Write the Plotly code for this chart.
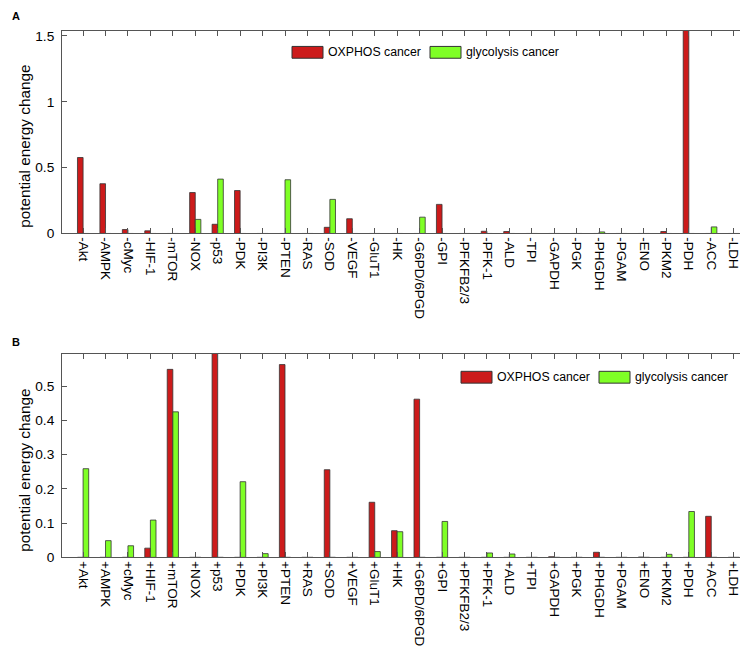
import plotly.graph_objects as go

genes = ["Akt", "AMPK", "cMyc", "HIF-1", "mTOR", "NOX", "p53", "PDK", "PI3K", "PTEN",
         "RAS", "SOD", "VEGF", "GluT1", "HK", "G6PD/6PGD", "GPI", "PFKFB2/3", "PFK-1", "ALD",
         "TPI", "GAPDH", "PGK", "PHGDH", "PGAM", "ENO", "PKM2", "PDH", "ACC", "LDH"]
labels_a = ["-" + g for g in genes]
labels_b = ["+" + g for g in genes]

oxphos_a = [0.577, 0.378, 0.030, 0.020, 0, 0.311, 0.070, 0.326, 0, 0,
            0, 0.047, 0.112, 0, 0, 0, 0.221, 0, 0.017, 0.015,
            0, 0, 0, 0, 0, 0, 0.015, 1.60, 0, 0]
glyco_a = [0, 0, 0, 0, 0, 0.107, 0.413, 0, 0, 0.408,
           0, 0.259, 0, 0, 0, 0.124, 0, 0, 0, 0,
           0, 0, 0, 0.012, 0, 0, 0, 0, 0.050, 0]

oxphos_b = [0, 0, 0, 0.027, 0.549, 0, 0.62, 0, 0, 0.563,
            0, 0.256, 0, 0.161, 0.078, 0.462, 0, 0, 0, 0,
            0, 0.002, 0, 0.015, 0, 0.001, 0, 0, 0.120, 0]
glyco_b = [0.259, 0.049, 0.034, 0.109, 0.425, 0, 0, 0.221, 0.011, 0,
           0, 0, 0, 0.017, 0.075, 0, 0.105, 0, 0.013, 0.010,
           0, 0, 0, 0, 0, 0, 0.009, 0.134, 0, 0]

series_names = ["OXPHOS cancer", "glycolysis cancer"]
yticks_a = [0, 0.5, 1, 1.5]
yticks_b = [0, 0.1, 0.2, 0.3, 0.4, 0.5]

RED = "#CC1B1B"
GREEN = "#7FFF26"
EDGE = "#333333"
FONT = "Liberation Sans, Arial, sans-serif"
W, H = 748, 647

fig = go.Figure()
for xs, ys, col, xa, ya in [
    (labels_a, oxphos_a, RED, "x", "y"),
    (labels_a, glyco_a, GREEN, "x", "y"),
    (labels_b, oxphos_b, RED, "x2", "y2"),
    (labels_b, glyco_b, GREEN, "x2", "y2"),
]:
    fig.add_trace(go.Bar(x=xs, y=ys, marker=dict(color=col, line=dict(color=EDGE, width=0.8)),
                         xaxis=xa, yaxis=ya, showlegend=False))

def px_x(v):
    return v / W

def px_y(v):
    return 1 - v / H

xdom = [px_x(54), px_x(747)]
common_x = dict(type="category", range=[-0.94, 29.95], showline=True, linecolor="#555", linewidth=1,
                mirror="allticks", ticks="inside", ticklen=5, tickcolor="#555", tickangle=90,
                tickfont=dict(family=FONT, size=13.5, color="black"), showgrid=False,
                ticklabelstandoff=0, domain=xdom)
common_y = dict(showline=True, linecolor="#555", linewidth=1, mirror="allticks", ticks="inside",
                ticklen=5, tickcolor="#555", tickfont=dict(family=FONT, size=13.7, color="black"),
                showgrid=False, zeroline=False, ticklabelstandoff=4)

fig.update_layout(
    width=W, height=H, margin=dict(l=0, r=0, t=0, b=0),
    paper_bgcolor="white", plot_bgcolor="white",
    barmode="group", bargap=0.5, bargroupgap=0,
    font=dict(family=FONT, color="black"),
    xaxis=dict(common_x, anchor="y", categoryarray=labels_a, categoryorder="array"),
    yaxis=dict(common_y, anchor="x", range=[0, 1.54], tickvals=yticks_a,
               domain=[px_y(227), px_y(21)]),
    xaxis2=dict(common_x, anchor="y2", categoryarray=labels_b, categoryorder="array"),
    yaxis2=dict(common_y, anchor="x2", range=[0, 0.595], tickvals=yticks_b,
                domain=[px_y(556), px_y(349)]),
)

ann = []
shapes = []
for label, ly in [("A", 6), ("B", 337)]:
    ann.append(dict(text="<b>%s</b>" % label, x=px_x(2), y=px_y(ly), xref="paper", yref="paper",
                    xanchor="left", yanchor="middle", showarrow=False,
                    font=dict(family=FONT, size=11, color="black")))
for cy in [139, 468]:
    ann.append(dict(text="potential energy change", x=px_x(17), y=px_y(cy), xref="paper",
                    yref="paper", textangle=-90, showarrow=False, xanchor="center",
                    yanchor="middle", font=dict(family=FONT, size=15.3, color="black")))

legend_pos = [(284, 422, 43), (453, 591, 373)]
for x_red, x_green, cy in legend_pos:
    for x0, col, name in [(x_red, RED, series_names[0]), (x_green, GREEN, series_names[1])]:
        shapes.append(dict(type="rect", xref="paper", yref="paper",
                           x0=px_x(x0), x1=px_x(x0 + 31), y0=px_y(cy + 6), y1=px_y(cy - 6),
                           fillcolor=col, line=dict(color=EDGE, width=1)))
        ann.append(dict(text=name, x=px_x(x0 + 34), y=px_y(cy), xref="paper", yref="paper",
                        xanchor="left", yanchor="middle", showarrow=False,
                        font=dict(family=FONT, size=12.3, color="black")))

fig.update_layout(annotations=ann, shapes=shapes)
fig.write_html("out.html")
